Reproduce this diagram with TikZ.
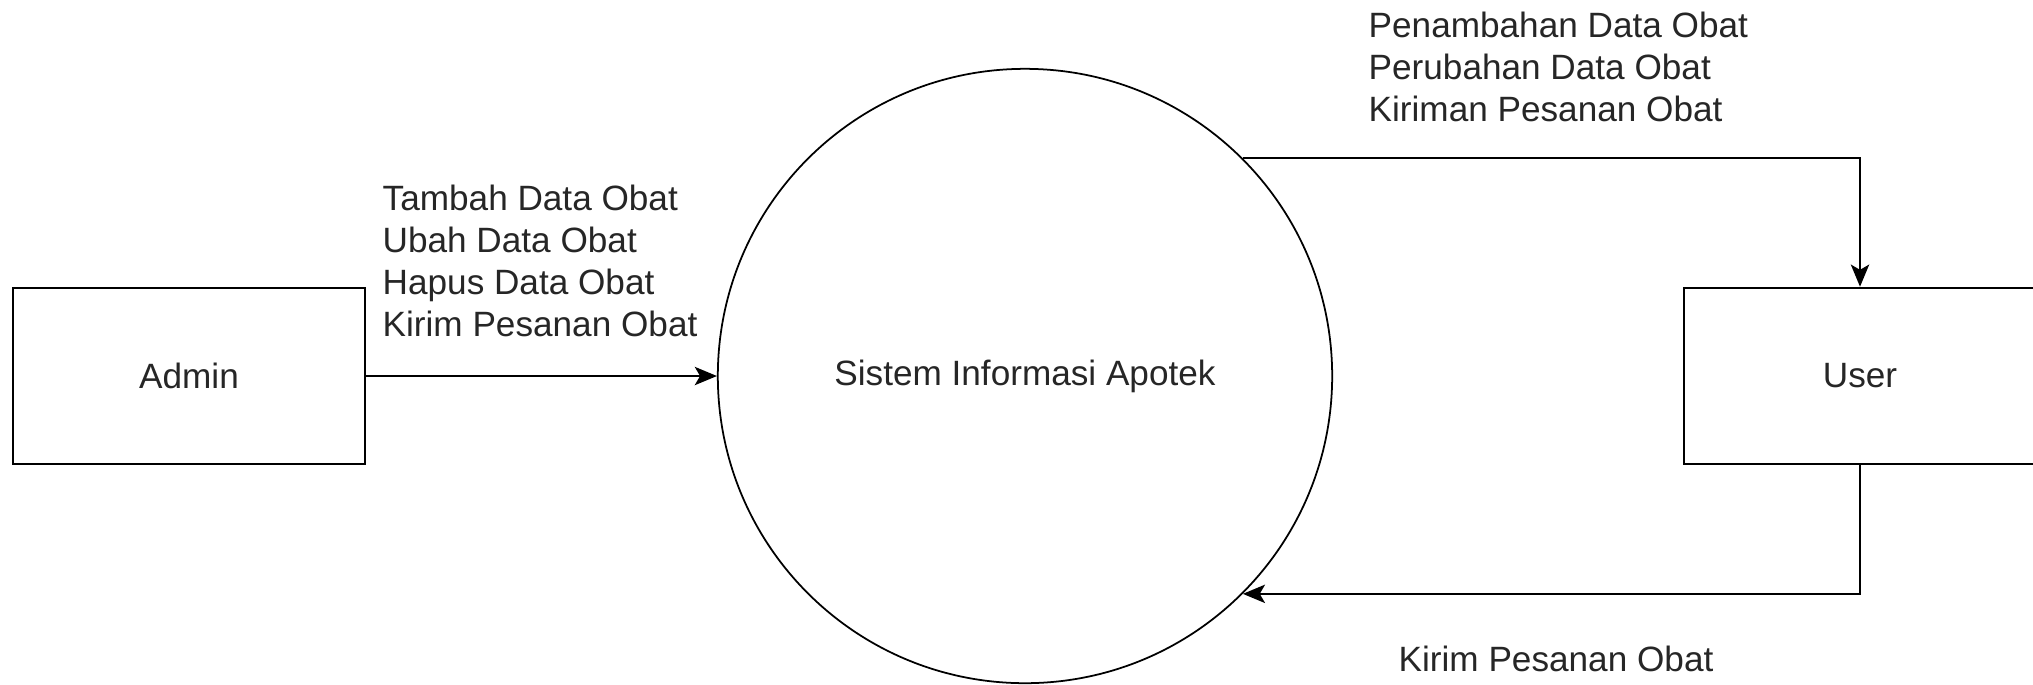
\documentclass[tikz,border=0pt]{standalone}
\usepackage{fontspec}
\setmainfont{Liberation Sans}
\usetikzlibrary{shapes,positioning,arrows.meta}

\begin{document}
\begin{tikzpicture}[x=0.01cm, y=-0.01cm,
    entity/.style={rectangle, draw=black, line width=0.7pt, minimum width=3.52cm, minimum height=1.76cm, font=\fontsize{10}{12}\selectfont, text=black!85},
    proc/.style={circle, draw=black, line width=0.5pt, minimum size=6.14cm, font=\fontsize{10}{12}\selectfont, text=black!85},
    flow/.style={-{Stealth[length=6.3pt, width=5.2pt, inset=1.5pt]}, line width=0.65pt, draw=black},
    flowtext/.style={align=left, anchor=west, inner sep=0pt, font=\fontsize{10}{12}\selectfont, text=black!85}]
            \useasboundingbox (0, 0) rectangle (2033, 684);
            \node[entity] (admin) at (189, 376) {Admin};
            \node[proc] (sia) at (1025, 376) {Sistem Informasi Apotek};
            \node[entity] (user) at (1860, 376) {User};
            \draw[flow] (admin) -- (sia);
            \draw[flow] (sia.45) -| (user.north);
            \draw[flow] (user.south) |- (sia.-45);
            \node[flowtext] (inAdmin) at (382, 261) {Tambah Data Obat\\Ubah Data Obat\\Hapus Data Obat\\Kirim Pesanan Obat};
            \node[flowtext] (outUser) at (1368, 67) {Penambahan Data Obat\\Perubahan Data Obat\\Kiriman Pesanan Obat};
            \node[flowtext] (inUser) at (1398, 659) {Kirim Pesanan Obat};
        \end{tikzpicture}
\end{document}
